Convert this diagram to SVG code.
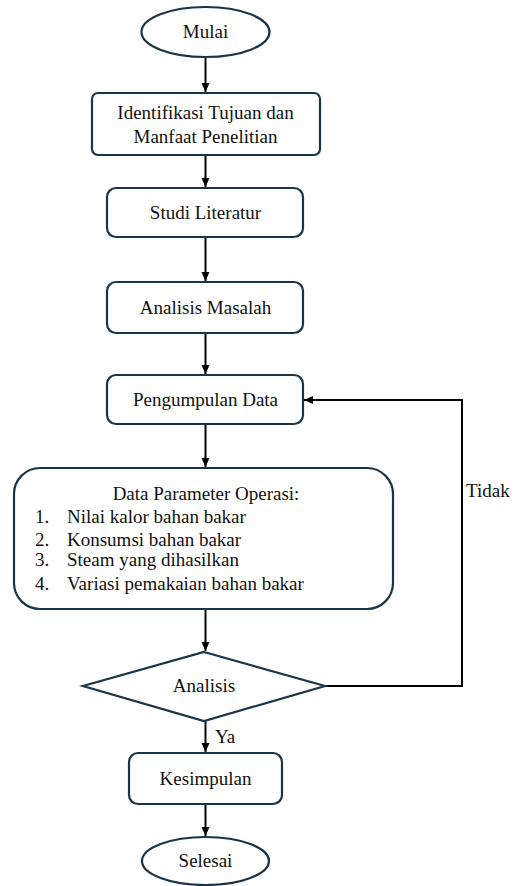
<svg xmlns="http://www.w3.org/2000/svg" width="515" height="886" viewBox="0 0 515 886" font-family="Liberation Serif, Times New Roman, Times, serif" font-size="19">
<defs>
<marker id="ah" markerWidth="10" markerHeight="10" refX="9" refY="5" orient="auto" markerUnits="userSpaceOnUse">
<path d="M0,1 L9,5 L0,9 Z" fill="#000"/>
</marker>
<style>
.shape{fill:#fff;stroke:#1b3447;stroke-width:2.2}
.conn{fill:none;stroke:#000;stroke-width:2;marker-end:url(#ah)}
.t{fill:#111}
.c{text-anchor:middle}
</style>
</defs>
<rect width="515" height="886" fill="#fff"/>
<g id="connectors">
<line class="conn" x1="205.5" y1="57" x2="205.5" y2="92"/>
<line class="conn" x1="205.5" y1="155" x2="205.5" y2="187"/>
<line class="conn" x1="205.5" y1="237" x2="205.5" y2="281"/>
<line class="conn" x1="205.5" y1="333" x2="205.5" y2="374"/>
<line class="conn" x1="205.5" y1="424" x2="205.5" y2="467"/>
<line class="conn" x1="205.5" y1="609" x2="205.5" y2="651"/>
<line class="conn" x1="205.5" y1="721" x2="205.5" y2="752"/>
<line class="conn" x1="205.5" y1="804" x2="205.5" y2="836"/>
<polyline class="conn" points="325,686 462,686 462,400 304,400"/>
<text class="t" x="215" y="743">Ya</text>
<text class="t" x="466" y="497">Tidak</text>
</g>
<g id="mulai">
<ellipse class="shape" cx="205.5" cy="32" rx="64" ry="25"/>
<text class="t c" x="205.5" y="38">Mulai</text>
</g>
<g id="identifikasi">
<rect class="shape" x="92" y="93" width="228" height="62" rx="6"/>
<text class="t c" x="205.5" y="119">Identifikasi Tujuan dan</text>
<text class="t c" x="205.5" y="143">Manfaat Penelitian</text>
</g>
<g id="studi">
<rect class="shape" x="107" y="188" width="196" height="49" rx="9"/>
<text class="t c" x="205.5" y="219">Studi Literatur</text>
</g>
<g id="masalah">
<rect class="shape" x="107" y="282" width="196" height="51" rx="9"/>
<text class="t c" x="205.5" y="314">Analisis Masalah</text>
</g>
<g id="pengumpulan">
<rect class="shape" x="107" y="375" width="196" height="49" rx="9"/>
<text class="t c" x="205.5" y="406">Pengumpulan Data</text>
</g>
<g id="parameter">
<rect class="shape" x="14" y="468" width="379" height="141" rx="26"/>
<text class="t c" x="206" y="500">Data Parameter Operasi:</text>
<text class="t" x="35" y="523">1.</text><text class="t" x="67" y="523">Nilai kalor bahan bakar</text>
<text class="t" x="35" y="546">2.</text><text class="t" x="67" y="546">Konsumsi bahan bakar</text>
<text class="t" x="35" y="566">3.</text><text class="t" x="67" y="566">Steam yang dihasilkan</text>
<text class="t" x="35" y="590">4.</text><text class="t" x="67" y="590">Variasi pemakaian bahan bakar</text>
</g>
<g id="analisis">
<polygon class="shape" points="204,652 325,686 204,721 83,686"/>
<text class="t c" x="204" y="692">Analisis</text>
</g>
<g id="kesimpulan">
<rect class="shape" x="129" y="753" width="153" height="51" rx="9"/>
<text class="t c" x="205.5" y="785">Kesimpulan</text>
</g>
<g id="selesai">
<ellipse class="shape" cx="205.5" cy="861" rx="63.5" ry="24"/>
<text class="t c" x="205.5" y="867">Selesai</text>
</g>
</svg>
